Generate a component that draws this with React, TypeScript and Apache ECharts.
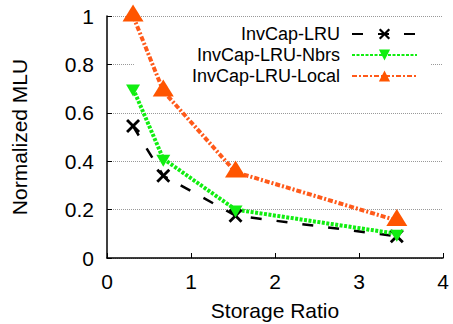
import React, { useEffect, useRef } from "react";
import * as echarts from "echarts";

const storageRatio = [0.31, 0.67, 1.53, 3.45];
const lruValues = [0.545, 0.34, 0.175, 0.09];
const nbrsValues = [0.7, 0.41, 0.2, 0.1];
const localValues = [1.0, 0.69, 0.355, 0.155];
const seriesNames = ["InvCap-LRU", "InvCap-LRU-Nbrs", "InvCap-LRU-Local"];
const yTicks = ["0", "0.2", "0.4", "0.6", "0.8", "1"];

const xSymbol =
  "path://M2,0 L7,5 L12,0 L14,2 L9,7 L14,12 L12,14 L7,9 L2,14 L0,12 L5,7 L0,2 Z";

const FONT = "'Liberation Sans', Arial, Helvetica, sans-serif";

export default function App() {
  const ref = useRef<HTMLDivElement>(null);
  useEffect(() => {
    if (!ref.current) return;
    const chart = echarts.init(ref.current, undefined, { renderer: "svg" });
    const pair = (vals: number[]) => storageRatio.map((x, i) => [x, vals[i]]);
    chart.setOption({
      animation: false,
      backgroundColor: "#fff",
      textStyle: { fontFamily: FONT },
      grid: {
        left: 107,
        right: 10,
        top: 16,
        bottom: 66,
        containLabel: false,
        outerBoundsMode: "none",
      },
      legend: {
        orient: "vertical",
        align: "right",
        right: 23,
        top: 20,
        z: 1,
        backgroundColor: "#fff",
        padding: [5, 12, 8, 58],
        itemWidth: 65,
        itemHeight: 14,
        itemGap: 3,
        textStyle: {
          fontSize: 18,
          fontFamily: FONT,
          color: "#000",
          lineHeight: 18,
          padding: [0, 7, 0, 0],
        },
        data: seriesNames,
      },
      xAxis: {
        type: "value",
        min: 0,
        max: 4,
        interval: 1,
        name: "Storage Ratio",
        nameLocation: "middle",
        nameGap: 42,
        nameTextStyle: { fontSize: 21, color: "#000", fontFamily: FONT },
        axisLine: { onZero: false, lineStyle: { color: "#000", width: 1.5 } },
        axisTick: { inside: true, length: 5, lineStyle: { color: "#000" } },
        axisLabel: { fontSize: 21, color: "#000", margin: 13, fontFamily: FONT },
        splitLine: { show: false },
      },
      yAxis: {
        type: "value",
        min: 0,
        max: 1,
        interval: 0.2,
        name: "Normalized MLU",
        nameLocation: "middle",
        nameGap: 77,
        nameTextStyle: { fontSize: 21, color: "#000", fontFamily: FONT },
        axisLine: { show: true, lineStyle: { color: "#000", width: 1.5 } },
        axisTick: { show: true, inside: true, length: 5, lineStyle: { color: "#000" } },
        axisLabel: {
          fontSize: 21,
          color: "#000",
          margin: 13,
          fontFamily: FONT,
          formatter: (v: number) => yTicks[Math.round(v / 0.2)] ?? String(v),
        },
        splitLine: { show: true, lineStyle: { color: "#999", type: "dotted", width: 1 } },
      },
      series: [
        {
          name: seriesNames[0],
          type: "line",
          z: 3,
          data: pair(lruValues),
          symbol: xSymbol,
          symbolSize: 14,
          itemStyle: { color: "#000" },
          lineStyle: { color: "#000", width: 2.5, type: [11, 15] },
        },
        {
          name: seriesNames[1],
          type: "line",
          z: 3,
          data: pair(nbrsValues),
          symbol: "triangle",
          symbolRotate: 180,
          symbolSize: [14, 12],
          symbolOffset: [0, 2],
          itemStyle: { color: "#11ee11" },
          lineStyle: { color: "#11ee11", width: 4, type: [3, 1.5] },
        },
        {
          name: seriesNames[2],
          type: "line",
          z: 3,
          data: pair(localValues),
          symbol: "triangle",
          symbolSize: [21, 17],
          symbolOffset: [0, -3],
          itemStyle: { color: "#ff5500" },
          lineStyle: { color: "#ff5a1a", width: 4, type: [5, 2, 2, 2] },
        },
      ],
    });
    return () => chart.dispose();
  }, []);
  return <div ref={ref} style={{ width: 453, height: 324, position: "absolute", left: 0, top: 0 }} />;
}
